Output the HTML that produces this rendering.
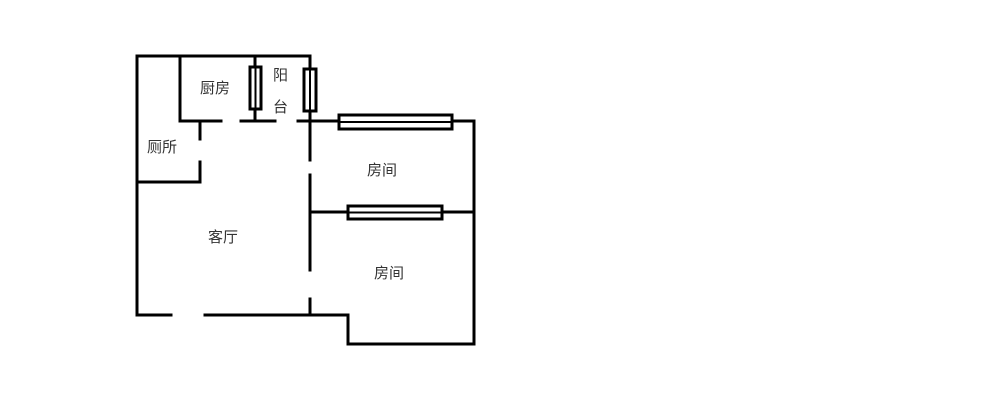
<!DOCTYPE html>
<html><head><meta charset="utf-8"><style>
html,body{margin:0;padding:0;background:#fff;}
svg{display:block;}
text{font-family:"Liberation Sans","Noto Sans CJK SC",sans-serif;font-size:15px;fill:#333;}
</style></head><body>
<svg width="1000" height="400" viewBox="0 0 1000 400">
<g stroke="#000" stroke-width="3" fill="none" stroke-linecap="square">
<!-- outer -->
<polyline points="137,315 137,56 310,56 310,160"/>
<line x1="310" y1="175" x2="310" y2="270"/>
<line x1="310" y1="299" x2="310" y2="315"/>
<line x1="137" y1="315" x2="171" y2="315"/>
<polyline points="205,315 348,315 348,344 474,344 474,121 298,121"/>
<line x1="310" y1="212" x2="474" y2="212"/>
<!-- kitchen -->
<polyline points="180,56 180,121 221,121"/>
<line x1="241" y1="121" x2="275" y2="121"/>
<line x1="255" y1="56" x2="255" y2="121"/>
<!-- toilet -->
<line x1="200" y1="122" x2="200" y2="139"/>
<polyline points="200,162 200,182 137,182"/>
</g>
<!-- windows -->
<g stroke="#000" fill="#fff">
<rect x="250" y="67" width="11" height="42" stroke-width="3"/>
<line x1="255.5" y1="67" x2="255.5" y2="109" stroke-width="2"/>
<rect x="304" y="69" width="12" height="42" stroke-width="3"/>
<line x1="310" y1="69" x2="310" y2="111" stroke-width="2"/>
<rect x="339" y="115" width="113" height="14" stroke-width="3"/>
<line x1="339" y1="122" x2="452" y2="122" stroke-width="2"/>
<rect x="348" y="206" width="94" height="13" stroke-width="3"/>
<line x1="348" y1="212.5" x2="442" y2="212.5" stroke-width="2"/>
</g>
<text x="200" y="93">厨房</text>
<text x="273" y="80">阳</text>
<text x="273" y="112">台</text>
<text x="147" y="152">厕所</text>
<text x="208" y="242">客厅</text>
<text x="367" y="175">房间</text>
<text x="374" y="278">房间</text>
</svg>
</body></html>
